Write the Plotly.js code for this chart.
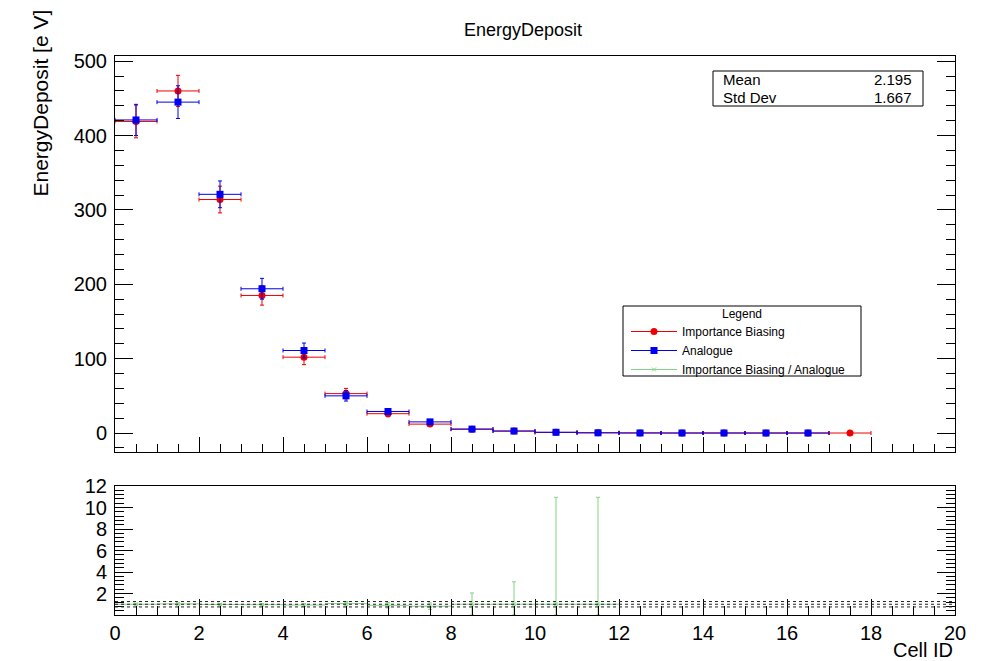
<!DOCTYPE html>
<html>
<head>
<meta charset="utf-8">
<script src="https://cdn.plot.ly/plotly-3.0.1.min.js"></script>
<style>html,body{margin:0;padding:0;background:#fff;}#chart{width:985px;height:661px;}</style>
</head>
<body>
<div id="chart"></div>
<script>
// ---- data ----
const cellCenters = [0.5,1.5,2.5,3.5,4.5,5.5,6.5,7.5,8.5,9.5,10.5,11.5,12.5,13.5,14.5,15.5,16.5,17.5];
const biasedValues = [419,460,314,185,102,53,26,12,5.2,2.6,0.9,0.3,0.1,0.05,0.03,0.02,0.01,0.01];
const biasedErrors = [22,21,18,13,10,7,4,3,1.5,1,0.5,0.2,0.1,0.05,0.03,0.02,0.01,0.01];
const analogueValues = [421,445,321,194,111,50,29,15,5.3,2.7,1.0,0.3,0.1,0.05,0.03,0.02,0.01,null];
const analogueErrors = [21,22,18,14,10,7,4,3,1.5,1,0.5,0.2,0.1,0.05,0.03,0.02,0.01,null];
const ratioCenters = [0.5,1.5,2.5,3.5,4.5,5.5,6.5,7.5,8.5,9.5,10.5,11.5];
const ratioValues = [1.0,1.03,0.98,0.96,0.93,1.06,0.9,0.82,1.0,1.0,1.0,1.0];
const ratioErrUp = [0.08,0.1,0.09,0.1,0.13,0.2,0.25,0.3,1.05,2.08,9.95,9.95];
const ratioErrDown = [0.08,0.1,0.09,0.1,0.13,0.2,0.25,0.3,1.0,1.0,1.0,1.0];
const refLines = [0.75,1.0,1.25];
const binHalfWidth = 0.5;
const statsLabels = ["Mean","Std Dev"];
const statsValues = ["2.195","1.667"];
const legendNames = ["Importance Biasing","Analogue","Importance Biasing / Analogue"];

const FONT = "Liberation Sans, Arial, Helvetica, sans-serif";
const RED = "#ee0000", BLUE = "#0000ee", GREEN = "#86d286";

const traces = [
  {x: cellCenters, y: biasedValues, type:'scatter', mode:'markers', showlegend:false,
   marker:{symbol:'circle', size:7, color:RED},
   error_y:{type:'data', array:biasedErrors, color:RED, thickness:1, width:2},
   error_x:{type:'constant', value:binHalfWidth, color:RED, thickness:1, width:2},
   xaxis:'x', yaxis:'y'},
  {x: cellCenters, y: analogueValues, type:'scatter', mode:'markers', showlegend:false,
   marker:{symbol:'square', size:7, color:BLUE},
   error_y:{type:'data', array:analogueErrors, color:BLUE, thickness:1, width:2},
   error_x:{type:'constant', value:binHalfWidth, color:BLUE, thickness:1, width:2},
   xaxis:'x', yaxis:'y'},
  {x: ratioCenters, y: ratioValues, type:'scatter', mode:'markers', showlegend:false,
   marker:{symbol:'x-thin-open', size:4, color:GREEN, line:{color:GREEN, width:1}},
   error_y:{type:'data', array:ratioErrUp, arrayminus:ratioErrDown, color:GREEN, thickness:1, width:2},
   error_x:{type:'constant', value:binHalfWidth, color:GREEN, thickness:1, width:0},
   xaxis:'x2', yaxis:'y2'},
  // legend entries
  {x:[null], y:[null], type:'scatter', mode:'lines+markers', name:legendNames[0],
   line:{color:RED, width:1}, marker:{symbol:'circle', size:7, color:RED}, xaxis:'x', yaxis:'y'},
  {x:[null], y:[null], type:'scatter', mode:'lines+markers', name:legendNames[1],
   line:{color:BLUE, width:1}, marker:{symbol:'square', size:7, color:BLUE}, xaxis:'x', yaxis:'y'},
  {x:[null], y:[null], type:'scatter', mode:'lines+markers', name:legendNames[2],
   line:{color:GREEN, width:1}, marker:{symbol:'x-thin-open', size:4, color:GREEN, line:{color:GREEN,width:1}}, xaxis:'x', yaxis:'y'}
];

const W = 985, H = 661, L = 115, R = 30, T = 56, B = 46;
const pw = W - L - R, ph = H - T - B;
const px = v => (v - L) / pw;          // page x -> paper x
const py = v => (H - B - v) / ph;      // page y -> paper y

const shapes = refLines.map(v => ({type:'line', xref:'x2', yref:'y2', x0:0, x1:20, y0:v, y1:v,
  line:{color:'#222', width:1, dash:'dot'}}));
// legend box
shapes.push({type:'rect', xref:'paper', yref:'paper', x0:px(623), x1:px(861), y0:py(306), y1:py(376),
  line:{color:'#000', width:1}, fillcolor:'rgba(255,255,255,0)'});
// stats box
shapes.push({type:'rect', xref:'paper', yref:'paper', x0:px(713), x1:px(923), y0:py(71), y1:py(106),
  line:{color:'#000', width:1}, fillcolor:'#fff', layer:'below'});

const annotations = [
  {text:'EnergyDeposit [e V]', xref:'paper', yref:'paper', x:px(40), y:py(8), xanchor:'center', yanchor:'top',
   textangle:-90, showarrow:false, font:{family:FONT, size:21, color:'#000'}},
  {text:'Cell ID', xref:'paper', yref:'paper', x:1, y:py(650), xanchor:'right', yanchor:'middle',
   showarrow:false, font:{family:FONT, size:20, color:'#000'}},
  {text:'Legend', xref:'paper', yref:'paper', x:px(742), y:py(314), xanchor:'center', yanchor:'middle',
   showarrow:false, font:{family:FONT, size:12, color:'#000'}}
];
statsLabels.forEach((s,i) => {
  annotations.push({text:s, xref:'paper', yref:'paper', x:px(721), y:py(80 + i*17), xanchor:'left', yanchor:'middle',
    showarrow:false, font:{family:FONT, size:15, color:'#000'}});
  annotations.push({text:statsValues[i], xref:'paper', yref:'paper', x:px(914), y:py(80 + i*17), xanchor:'right', yanchor:'middle',
    showarrow:false, font:{family:FONT, size:15, color:'#000'}});
});

const axisCommon = {showgrid:false, zeroline:false, showline:true, linecolor:'#000', linewidth:1,
  ticks:'inside', tickcolor:'#000', tickwidth:1, tickfont:{family:FONT, size:20, color:'#000'}};

const layout = {
  width:W, height:H,
  margin:{l:L, r:R, t:T, b:B},
  paper_bgcolor:'#fff', plot_bgcolor:'#fff',
  font:{family:FONT, color:'#000'},
  title:{text:'EnergyDeposit', font:{family:FONT, size:18, color:'#000'}, xref:'paper', x:px(523), xanchor:'center',
    yref:'container', y:1 - 30/H, yanchor:'middle'},
  showlegend:true,
  legend:{x:px(626), y:py(317), xanchor:'left', yanchor:'top', bgcolor:'rgba(0,0,0,0)', borderwidth:0,
    itemwidth:46, font:{family:FONT, size:12, color:'#000'}, traceorder:'normal', itemclick:false},
  xaxis:Object.assign({}, axisCommon, {range:[0,20], domain:[0,1], anchor:'y', showticklabels:false,
    tick0:0, dtick:2, ticklen:15, mirror:true,
    minor:{ticks:'inside', dtick:0.5, tick0:0, ticklen:8, tickcolor:'#000', tickwidth:1, showgrid:false}}),
  yaxis:Object.assign({}, axisCommon, {range:[-25.5,507], domain:[py(452),1], anchor:'x',
    tick0:0, dtick:100, ticklen:18, mirror:'allticks', ticklabelstandoff:3,
    minor:{ticks:'inside', dtick:20, tick0:0, ticklen:9, tickcolor:'#000', tickwidth:1, showgrid:false}}),
  xaxis2:Object.assign({}, axisCommon, {range:[0,20], domain:[0,1], anchor:'y2', matches:'x',
    tick0:0, dtick:2, ticklen:16, mirror:true,
    minor:{ticks:'inside', dtick:0.5, tick0:0, ticklen:9, tickcolor:'#000', tickwidth:1, showgrid:false}}),
  yaxis2:Object.assign({}, axisCommon, {range:[0,12], domain:[0,py(486)], anchor:'x2',
    tickmode:'array', tickvals:[2,4,6,8,10,12], ticklen:18, mirror:'allticks', ticklabelstandoff:3,
    minor:{ticks:'inside', tickmode:'linear', dtick:0.4, tick0:0, ticklen:9, tickcolor:'#000', tickwidth:1, showgrid:false}}),
  shapes:shapes,
  annotations:annotations
};

Plotly.newPlot('chart', traces, layout, {staticPlot:true, displayModeBar:false});
</script>
</body>
</html>
